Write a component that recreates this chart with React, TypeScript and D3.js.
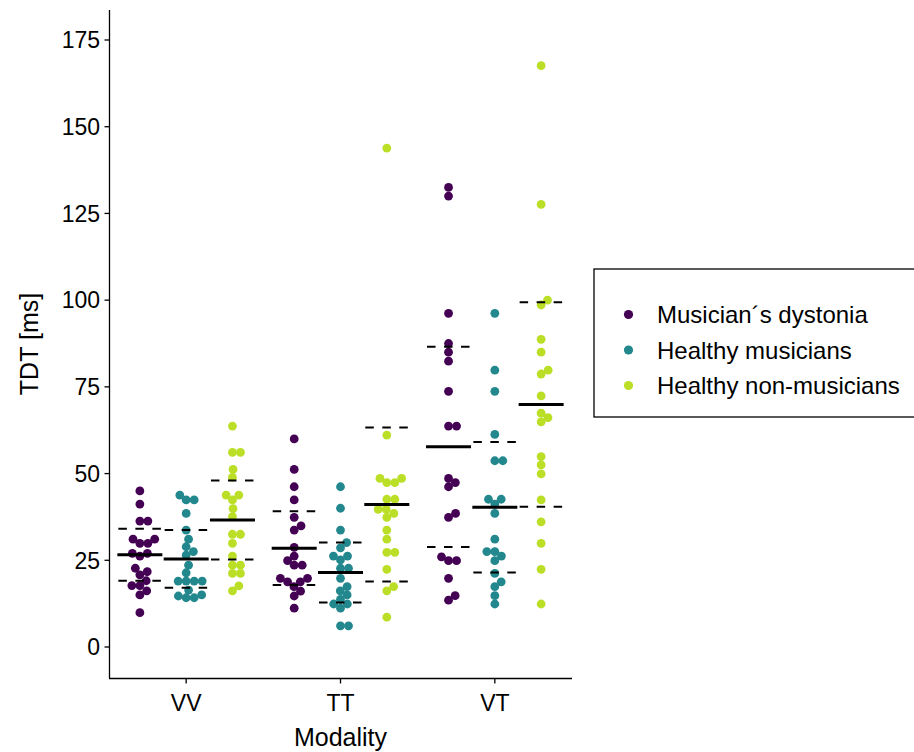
import React from "react";
import * as d3 from "d3";

const modalities = ["VV", "TT", "VT"];
const groups = ["Musician´s dystonia", "Healthy musicians", "Healthy non-musicians"];
const colors = ["#440154", "#23888E", "#BBDF27"];
const yTicks = [0, 25, 50, 75, 100, 125, 150, 175];

const vvMD = [45.0, 41.2, 36.3, 36.3, 31.1, 31.1, 29.9, 29.9, 27.0, 27.0, 26.2, 22.7, 21.7, 20.8, 19.1, 17.7, 17.7, 16.2, 15.0, 9.9];
const vvHM = [43.8, 42.4, 42.4, 38.5, 33.7, 31.1, 28.9, 27.5, 26.5, 23.6, 21.4, 19.0, 19.0, 19.0, 19.0, 16.4, 15.0, 14.7, 14.2, 14.2];
const vvHN = [63.7, 56.1, 56.1, 51.2, 48.9, 43.8, 43.8, 42.4, 39.9, 37.6, 32.5, 32.5, 29.9, 26.2, 23.6, 23.6, 21.2, 21.2, 17.6, 16.2];
const ttMD = [60.0, 51.2, 46.2, 42.4, 37.4, 34.9, 33.7, 28.7, 26.2, 24.9, 23.6, 23.6, 19.8, 19.8, 18.8, 18.8, 17.4, 16.1, 14.7, 11.2];
const ttHM = [46.2, 40.0, 33.7, 30.1, 28.6, 26.2, 26.2, 25.1, 22.7, 22.7, 19.8, 17.4, 16.2, 15.0, 13.7, 12.4, 12.4, 11.2, 6.1, 6.1];
const ttHN = [143.8, 61.1, 48.6, 48.6, 47.4, 47.4, 42.6, 42.6, 39.7, 39.7, 38.5, 37.4, 33.7, 31.1, 27.3, 27.3, 22.4, 17.4, 16.2, 8.6];
const vtMD = [132.5, 130.0, 96.2, 87.5, 85.0, 82.4, 73.7, 63.7, 63.7, 48.6, 47.4, 46.2, 38.5, 37.4, 26.0, 24.9, 24.9, 19.8, 14.8, 13.5];
const vtHM = [96.2, 79.8, 73.7, 61.3, 53.7, 53.7, 42.6, 42.6, 41.2, 38.5, 31.1, 27.5, 27.5, 26.2, 24.9, 21.2, 18.8, 17.4, 14.8, 12.4];
const vtHN = [167.6, 127.6, 100.0, 98.6, 88.7, 85.0, 79.8, 78.7, 72.4, 67.4, 66.1, 64.9, 54.9, 52.5, 49.9, 42.4, 36.1, 29.9, 22.4, 12.4];

// summary lines (mean, sd) per modality x group
const meansVV = [26.6, 25.4, 36.6];
const meansTT = [28.5, 21.5, 41.1];
const meansVT = [57.7, 40.3, 69.9];
const sdVV = [7.5, 8.35, 11.4];
const sdTT = [10.65, 8.65, 22.2];
const sdVT = [28.85, 18.8, 29.5];

const values = [
  [vvMD, vvHM, vvHN],
  [ttMD, ttHM, ttHN],
  [vtMD, vtHM, vtHN],
];
const means = [meansVV, meansTT, meansVT];
const sds = [sdVV, sdTT, sdVT];

const FONT = "'Liberation Sans', Arial, Helvetica, sans-serif";

function swarm(ys: number[], d: number): number[] {
  const order = ys.map((y, i) => i).sort((a, b) => ys[b] - ys[a]);
  const placed: { x: number; y: number }[] = [];
  const xs = new Array(ys.length).fill(0);
  for (const i of order) {
    const y = ys[i];
    const cands = [0];
    for (const p of placed) {
      const dy = Math.abs(p.y - y);
      if (dy < d) {
        const dx = Math.sqrt(d * d - dy * dy);
        cands.push(p.x + dx, p.x - dx);
      }
    }
    const ok = cands.filter((c) =>
      placed.every((p) => (p.x - c) ** 2 + (p.y - y) ** 2 >= d * d - 0.01)
    );
    ok.sort((a, b) => Math.abs(a) - Math.abs(b) || b - a);
    const x = ok[0];
    xs[i] = x;
    placed.push({ x, y });
  }
  return xs;
}

export default function App() {
  const W = 914, H = 752;
  const x = d3.scaleBand().domain(modalities).range([109, 572]).padding(0);
  const y = d3.scaleLinear().domain([0, 175]).range([647, 40]);
  const dodge = d3.scaleBand().domain(groups).range([-0.45, 0.45]);
  const bw = x.bandwidth();
  const groupCenter = (mi: number, gi: number) =>
    (x(modalities[mi]) as number) + bw / 2 + ((dodge(groups[gi]) as number) + dodge.bandwidth() / 2) * bw;
  const halfBar = 22.5;

  const points: React.ReactNode[] = [];
  const lines: React.ReactNode[] = [];
  values.forEach((row, mi) =>
    row.forEach((vals, gi) => {
      const cx = groupCenter(mi, gi);
      const ys = vals.map((v) => y(v));
      const xs = swarm(ys, 8);
      vals.forEach((v, k) => {
        points.push(
          <circle key={`p${mi}-${gi}-${k}`} cx={cx + xs[k]} cy={ys[k]} r={4.4} fill={colors[gi]} />
        );
      });
      const m = means[mi][gi];
      const s = sds[mi][gi];
      lines.push(
        <line key={`m${mi}-${gi}`} x1={cx - halfBar} x2={cx + halfBar} y1={y(m)} y2={y(m)} stroke="#000" strokeWidth={3} />,
        <line key={`u${mi}-${gi}`} x1={cx - 21.5} x2={cx + 21.5} y1={y(m + s)} y2={y(m + s)} stroke="#000" strokeWidth={2} strokeDasharray="8.5,8.5" />,
        <line key={`l${mi}-${gi}`} x1={cx - 21.5} x2={cx + 21.5} y1={y(m - s)} y2={y(m - s)} stroke="#000" strokeWidth={2} strokeDasharray="8.5,8.5" />
      );
    })
  );

  return (
    <svg width={W} height={H} style={{ position: "absolute", left: 0, top: 0, background: "#fff" }} fontFamily={FONT}>
      <rect x={0} y={0} width={W} height={H} fill="#fff" />
      {points}
      {lines}
      {/* y axis */}
      <line x1={109.5} x2={109.5} y1={10} y2={678} stroke="#000" strokeWidth={1.3} />
      {yTicks.map((t) => (
        <g key={t}>
          <line x1={104.5} x2={109.5} y1={y(t)} y2={y(t)} stroke="#000" strokeWidth={1.3} />
          <text x={100} y={y(t)} dy="0.36em" textAnchor="end" fontSize={23} fill="#000">{t}</text>
        </g>
      ))}
      {/* x axis */}
      <line x1={109} x2={572} y1={678.5} y2={678.5} stroke="#000" strokeWidth={1.3} />
      {modalities.map((m) => {
        const cx = (x(m) as number) + bw / 2;
        return (
          <g key={m}>
            <line x1={cx} x2={cx} y1={678.5} y2={683.5} stroke="#000" strokeWidth={1.3} />
            <text x={cx} y={711} textAnchor="middle" fontSize={23} fill="#000">{m}</text>
          </g>
        );
      })}
      <text x={340.5} y={746} textAnchor="middle" fontSize={25} fill="#000">Modality</text>
      <text transform={`translate(38,344) rotate(-90)`} textAnchor="middle" fontSize={25} fill="#000">TDT [ms]</text>
      {/* legend */}
      <rect x={594} y={269} width={340} height={148} fill="#fff" stroke="#000" strokeWidth={1.3} />
      {groups.map((g, i) => (
        <g key={g}>
          <circle cx={628.5} cy={314.5 + i * 35.5} r={4.6} fill={colors[i]} />
          <text x={657} y={314.5 + i * 35.5} dy="0.36em" fontSize={24} fill="#000">{g}</text>
        </g>
      ))}
    </svg>
  );
}
